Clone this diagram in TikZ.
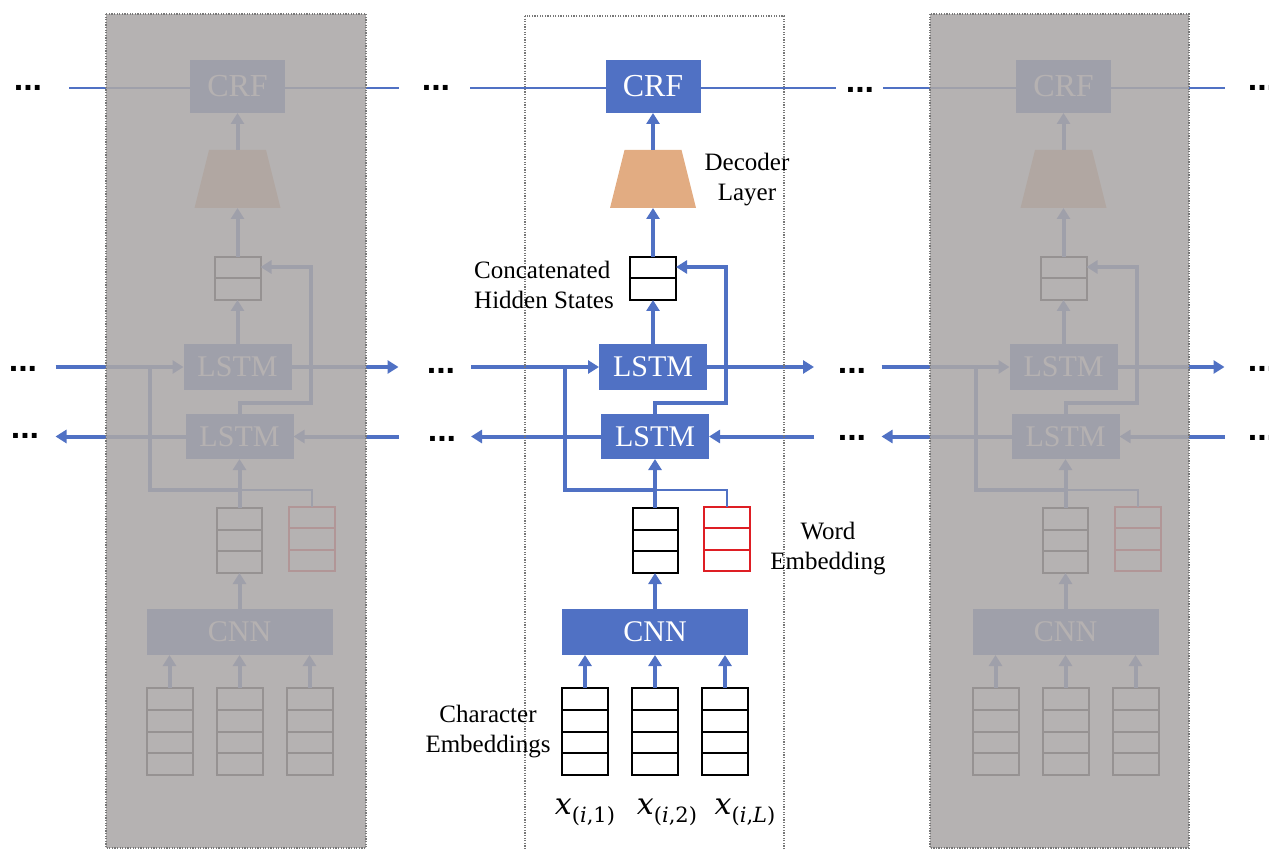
\documentclass[tikz,border=0pt]{standalone}
\usepackage{fontspec}
\setmainfont{Liberation Serif}
\newfontfamily\dotsfont{Liberation Sans}
\newfontfamily\varfont{DejaVu Serif}
\usetikzlibrary{arrows.meta,calc}

\definecolor{netblue}{RGB}{80,113,196}
\definecolor{decorange}{RGB}{226,172,130}
\definecolor{embred}{RGB}{222,30,36}
\definecolor{veil}{RGB}{171,167,167}
\definecolor{panelline}{RGB}{120,120,120}

\tikzset{
  blk/.style={fill=netblue, text=white, inner sep=0, outer sep=0,
    font=\fontsize{30}{30}\selectfont},
  vec/.style={draw=black, line width=2pt, inner sep=0, outer sep=0},
  flow/.style={draw=netblue, line width=4pt},
  flowarr/.style={flow, -{Triangle[length=11pt,width=13pt]}},
  link/.style={draw=netblue, line width=2pt},
  lbl/.style={font=\fontsize{25}{30}\selectfont, align=center, inner sep=0},
  xlbl/.style={font=\varfont\fontsize{30}{30}\selectfont, inner sep=0},
  ell/.style={font=\dotsfont\bfseries\fontsize{34}{34}\selectfont, inner sep=0},
  panelframe/.style={draw=panelline, line width=1.3pt, dash pattern=on 1.3pt off 1.3pt}
}

% input symbol x with a lowered index, e.g. \charinput{1}
\newcommand\charinput[1]{\textit{x}\raisebox{-8pt}{\fontsize{21}{21}\selectfont(\textit{i},#1)}}

% horizontal dividers inside a vector node: #1 node, #2 fractions, #3 colour
\newcommand\vecrows[3]{%
  \foreach \q in {#2}
    \draw[line width=2pt, draw=#3]
      ($(#1.north west)!\q!(#1.south west)$) -- ($(#1.north east)!\q!(#1.south east)$);}

% one time step of the tagger: #1 name prefix, #2 centre x,
% #3/#4 left/right reach of the CRF chain
\newcommand\tagcolumn[4]{%
\begin{scope}[shift={(#2,0)}]
  % blocks
  \node[blk, minimum width=95, minimum height=53, font=\fontsize{32}{32}\selectfont]
    (#1crf) at (0,86.5) {CRF};
  \node[inner sep=0, outer sep=0, minimum width=86, minimum height=58] (#1dec) at (0,179) {};
  \fill[decorange] ($(#1dec.north west)+(14.5,0)$) -- ($(#1dec.north east)+(-14.5,0)$)
    -- (#1dec.south east) -- (#1dec.south west) -- cycle;
  \node[vec, minimum width=46, minimum height=43] (#1cat) at (0,278.5) {};
  \vecrows{#1cat}{1/2}{black}
  \node[blk, minimum width=108, minimum height=46] (#1fw) at (0,367) {LSTM};
  \node[blk, minimum width=108, minimum height=45] (#1bw) at (2,436.5) {LSTM};
  \node[vec, minimum width=45, minimum height=65] (#1wv) at (2,540.5) {};
  \vecrows{#1wv}{1/3,2/3}{black}
  \node[vec, draw=embred, minimum width=46, minimum height=64] (#1we) at (74,539) {};
  \vecrows{#1we}{1/3,2/3}{embred}
  \node[blk, minimum width=186, minimum height=46] (#1cnn) at (2,632) {CNN};
  \foreach \k/\cx in {1/-68, 2/2, 3/72}{
    \node[vec, minimum width=46, minimum height=87] (#1ch\k) at (\cx,731.5) {};
    \vecrows{#1ch\k}{1/4,2/4,3/4}{black}
    \draw[flowarr] (#1ch\k.north) -- (#1ch\k.north |- #1cnn.south);
  }
  % free ends and bends
  \coordinate (#1crfin) at (#3,88);
  \coordinate (#1crfout) at (#4,88);
  \coordinate (#1fin) at (-182,367);
  \coordinate (#1fout) at (161,367);
  \coordinate (#1bin) at (161,436.5);
  \coordinate (#1bout) at (-182,436.5);
  \coordinate (#1skip) at (-88,367);
  \coordinate (#1join) at (2,490);
  \coordinate (#1tap) at (73,267);
  % connectors
  \draw[link] (#1crfin) -- (#1crfin -| #1crf.west);
  \draw[link] (#1crfout -| #1crf.east) -- (#1crfout);
  \draw[flowarr] (#1dec.north) -- (#1crf.south);
  \draw[flowarr] (#1cat.north) -- (#1dec.south);
  \draw[flowarr] (#1fw.north) -- (#1cat.south);
  \draw[flowarr] (#1bw.north) -- ++(0,-11) -| (#1tap) -- (#1tap -| #1cat.east);
  \draw[flowarr] (#1fin) -- (#1fw.west);
  \draw[flowarr] (#1fw.east) -- (#1fout);
  \draw[flowarr] (#1bin) -- (#1bw.east);
  \draw[flowarr] (#1bw.west) -- (#1bout);
  \draw[link] (#1join) -| (#1we.north);
  \draw[flow] (#1join) -| (#1skip);
  \draw[flowarr] (#1wv.north) -- (#1bw.south);
  \draw[flowarr] (#1cnn.north) -- (#1wv.south);
\end{scope}}

\begin{document}
\begin{tikzpicture}[x=1pt, y=-1pt]
  \useasboundingbox (0,0) rectangle (1269,850);

  % neighbouring time steps, drawn faded behind a grey veil
  \tagcolumn{l}{237.5}{-168.5}{161.5}
  \tagcolumn{r}{1063.5}{-180.5}{161.5}
  \fill[veil, opacity=0.88] (106,14) rectangle (366,848);
  \fill[veil, opacity=0.88] (930,14) rectangle (1189,848);
  \draw[panelframe] (106,14) rectangle (366,848);
  \draw[panelframe] (930,14) rectangle (1189,848);

  % current time step
  \tagcolumn{c}{653}{-183}{183}
  \draw[panelframe] (525,16) rectangle (784,853);

  % labels
  \node[lbl] (declbl) at (747,180) {Decoder\\Layer};
  \node[lbl, align=left, anchor=west] (catlbl) at (474,285) {Concatenated\\Hidden States};
  \node[lbl] (welbl) at (828,549) {Word\\Embedding};
  \node[lbl] (chlbl) at (488,732) {Character\\Embeddings};
  \node[xlbl] (x1) at (585,812) {\charinput{1}};
  \node[xlbl] (x2) at (667,812) {\charinput{2}};
  \node[xlbl] (xL) at (745,812) {\charinput{\textit{L}}};

  % ellipses between time steps
  \foreach \n/\ex/\ey in {a1/28/88, a2/436/88, a3/860/90, a4/1262/88,
                           b1/23/369, b2/441/371, b3/852/371, b4/1262/369,
                           c1/25/436, c2/442/439, c3/852/438, c4/1262/438}
    \node[ell] (dots\n) at (\ex,\ey) {...};
\end{tikzpicture}
\end{document}
